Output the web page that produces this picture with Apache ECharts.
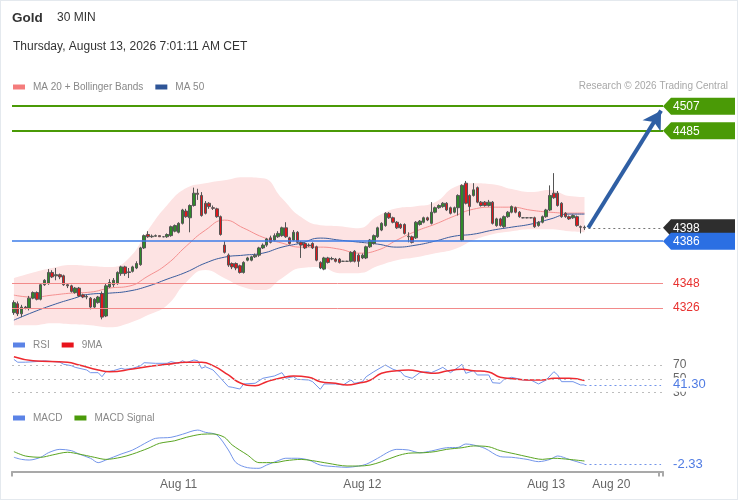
<!DOCTYPE html>
<html><head><meta charset="utf-8">
<script src="https://cdn.jsdelivr.net/npm/echarts@6/dist/echarts.min.js"></script>
<style>
html,body{margin:0;padding:0;background:#fff;}
#wrap{position:relative;width:738px;height:500px;}
#c{width:738px;height:500px;}
#frame{position:absolute;left:0;top:0;width:738px;height:500px;box-sizing:border-box;border:1px solid #e4e9ee;pointer-events:none;}
</style>
</head><body><div id="wrap"><div id="c"></div><div id="frame"></div></div>
<script>
// ---------- data ----------
const slotCount = 170;
const tickIndex = [43, 91, 139, 156];
const tickLabels = ['Aug 11', 'Aug 12', 'Aug 13', 'Aug 20'];

const opens  = [4322,4330,4321,4327,4326,4335,4340,4334,4347,4348,4358,4355,4356,4355,4347,4346,4340,4344,4338,4336,4335,4327,4331,4339,4319,4345,4347,4348,4357,4363,4358,4359,4362,4365,4380,4392,4390,4390.5,4391,4390,4390,4391,4395,4394,4402,4413,4407,4418,4429,4427,4420,4420,4416,4415,4408,4382.5,4373.5,4366,4366,4364,4358,4369,4369,4372,4373.5,4380,4382.5,4389,4387,4390,4391,4398,4389,4387,4394,4385,4384,4382.5,4384,4381,4367,4361,4371,4370,4370,4370,4368,4368,4368,4377,4373.5,4371,4371,4381,4384,4390,4396,4400,4411,4407,4403,4401,4401,4390,4390,4389,4401,4403,4407,4402,4412,4416,4417,4420,4416,4412,4416,4387,4438,4427,4427,4434,4421,4421,4418,4421,4400,4406,4399,4408,4412,4416,4412,4407,4407,4407,4407,4400,4403,4408,4414,4429,4429,4420,4411,4408,4407,4408,4399,4398.5];
const closes = [4331,4321,4327,4326,4335,4340,4334,4347,4351,4358,4354,4356,4354,4347,4346,4341,4344,4337,4336,4336.5,4327,4334,4336,4318,4346,4349,4351,4358,4363,4357,4358.5,4363,4366,4380,4391,4390,4390.5,4391,4390,4390,4392,4399,4400,4402,4414,4408,4418,4429,4428,4409,4411,4417,4415.5,4408,4392,4376,4364.6,4363,4362,4358,4367,4371,4372,4373.5,4380,4382.5,4388,4385,4391,4393,4398,4390,4384,4394,4385,4382.5,4380,4382,4380,4369,4362,4371,4367,4370.5,4368,4367,4368,4368,4376,4368,4368,4373.5,4381,4387,4391,4398,4402,4411,4407,4403,4398,4398,4393,4390.5,4385,4403,4404,4407,4405,4412,4416,4418,4420,4414,4411,4416,4427,4436,4420,4417,4432,4421,4418,4418,4421,4402,4406,4400,4408,4412,4417,4412,4408,4407,4407,4407,4399,4403,4408,4414,4427,4425,4418,4408,4408,4406,4409,4400,4398.5,4398];
const lows   = [4320,4319,4318,4325,4324,4334,4333,4333,4346,4347,4353,4351,4352,4346,4344,4340,4339,4336,4335,4334,4325,4326,4330,4316,4318,4344,4345,4347,4355,4355,4353,4358,4361,4364,4379,4389,4389,4390,4390,4389.5,4389,4390,4394,4393,4401,4407,4394,4417,4423,4408,4410,4415,4414,4407,4391,4375,4363,4361,4360,4357,4357,4368,4368,4371,4372,4379,4381,4384,4386,4389,4390,4389,4383,4386,4384,4371,4379,4381,4379,4368,4361,4360,4366,4369,4367,4366,4367.5,4367.5,4367,4367,4363,4370,4370,4380,4383,4389,4395,4399,4406,4402,4397,4397,4392,4385,4384,4388,4400,4402,4404,4401,4411,4415,4416,4413,4410,4411,4409,4386,4419,4409,4426,4420,4417,4417,4417,4401,4399,4399,4398,4407,4411,4411,4407,4406.5,4406.5,4406.5,4398,4399,4402,4407,4413,4424,4417,4407,4407,4405,4406,4399,4393,4396];
const highs  = [4333,4332,4329,4328,4337,4341,4341,4348,4352,4361,4360,4362,4357,4356,4348,4347,4345,4345,4339,4338,4336,4335,4337,4341,4348,4352,4353,4359,4364,4364,4362,4364,4368,4381,4392,4395,4392,4392,4391,4390.5,4393,4400,4401,4403,4415,4415,4419,4434,4433,4430,4422,4421,4418,4416,4409,4386,4375,4367,4367,4365,4368,4372,4373,4375,4381,4384,4389,4391,4393,4395,4399,4403,4390,4396,4395,4386,4385,4384,4385,4382,4368,4372,4372,4372,4371,4371,4368.5,4368.5,4377,4378,4375,4375,4382,4388,4392,4399,4403,4412,4412,4408,4404,4402,4402,4394,4391,4404,4405,4408,4408,4421,4417,4419,4421,4421,4417,4417,4428,4437,4440,4428,4438,4435,4422,4422,4423,4422,4407,4407,4409,4413,4418,4417,4413,4407.5,4407.5,4407.5,4408,4404,4409,4415,4436,4447,4431,4421,4412,4409,4410,4409,4400,4400];

const bandIdx = [0,5,10,15,20,25,30,35,40,45,50,55,60,65,70,75,80,85,90,95,100,105,110,115,120,125,130,135,140,145,149];
const bbUpper = [4353,4358,4362,4364.6,4363.7,4362.8,4370.8,4395.9,4418.3,4433.6,4438,4440.7,4443.4,4442.5,4424.6,4407.6,4400.4,4399.5,4397.7,4408.5,4415.6,4417.4,4421,4434.4,4438,4437.1,4432.7,4430,4431.8,4426.4,4425.5];
const bbLower = [4310.8,4310.8,4312.6,4311.7,4310.8,4309,4312.6,4319.8,4328.7,4349.3,4360.1,4352.9,4344.8,4342.2,4352.9,4361.9,4362.8,4357.4,4357.4,4363.7,4369,4371.7,4375.3,4378.9,4386.9,4392.3,4395,4396.8,4396.8,4395,4394.1];
const ma20    = [4337.7,4335.9,4337.7,4339.5,4340.4,4344,4345.7,4354.7,4365.5,4381.6,4395.9,4404.9,4397.7,4389.6,4384.3,4380.7,4380.7,4378.9,4375.3,4378,4387,4395,4401.3,4408.5,4414.7,4416.5,4416.5,4413.8,4412,4411.2,4411.2];
const ma50    = [4315.3,4322.4,4328.7,4334.1,4338.6,4339.5,4341.3,4345.7,4352,4358.3,4366.4,4371.7,4373.5,4375.3,4380.7,4384.3,4388.8,4387,4385.2,4383.4,4380.7,4382.5,4386.1,4390.5,4392.3,4395.9,4398.6,4401.3,4405.8,4410.3,4410.3];

const rsi = [[0,78],[1,74],[3,74],[6,75],[8,76],[10,75],[12,74],[13,71],[15,69],[16,66.6],[19,62.8],[20,58.9],[22,58.9],[23,53.1],[24,60.3],[26,61.8],[28,65.2],[29,63.8],[31,65.2],[33,68.6],[34,73.3],[37,72.4],[40,72.4],[41,74.8],[43,72.4],[44,76.2],[45,73.3],[47,77.2],[48,76.2],[49,65.2],[50,67.5],[52,62.8],[54,50.8],[56,38.7],[57,37.8],[59,35.3],[60,42.6],[63,43.6],[65,50.8],[68,54.1],[70,58.9],[71,50.8],[73,53.1],[74,49.3],[77,48.3],[78,45.9],[80,34.9],[81,42.6],[84,42.6],[86,41.1],[88,48.3],[89,43.6],[91,45.9],[92,53.1],[94,60.3],[97,70],[99,63.8],[101,60.3],[102,54.1],[104,50.8],[106,58.9],[108,60.3],[109,58.9],[111,63.8],[112,66.6],[114,58.9],[116,66.6],[117,71],[118,58],[120,61.8],[121,55.6],[124,55.6],[125,44.4],[127,43.6],[128,49.3],[130,52.2],[133,48.3],[135,48.3],[137,42.6],[139,48.3],[141,60.3],[142,55.6],[143,45.9],[146,45.9],[148,41.1],[149,41.3]];
const rsiMA = [[0,82],[5,76.2],[14,73.9],[17,70],[22,62.8],[25,60.3],[31,64.2],[36,68.6],[40,71],[45,73.9],[49,73.9],[52,69],[56,55.6],[59,44.4],[63,40.1],[66,45.9],[70,51.7],[73,54.1],[77,52.2],[80,45.9],[84,43.6],[87,41.1],[90,43.6],[93,48],[96,58],[100,61.8],[103,62.8],[107,59.4],[110,58],[113,61.3],[117,63.8],[120,61.8],[124,59.9],[127,52.2],[131,49.8],[134,48.3],[138,48.3],[141,50.8],[145,50.8],[149,47.4]];
const macd = [[0,1.8],[2,0.5],[4,0.1],[7,1.8],[9,4.6],[12,6.7],[15,5.9],[17,3.8],[20,1.2],[22,-1.5],[24,0.1],[28,3.8],[31,6.3],[35,11.4],[37,13.5],[41,14.1],[44,16],[48,18.6],[50,17.2],[53,15.6],[56,6.3],[58,-1.5],[61,-4.6],[64,-5],[66,-3],[69,-0.3],[71,1.2],[74,1.2],[77,0.1],[80,-3],[84,-4],[87,-4.4],[90,-3.6],[92,-2.5],[95,1.2],[98,5.3],[100,6.7],[103,6.3],[106,4.6],[109,5.7],[113,7.7],[116,7.9],[118,10],[120,9.4],[123,7.3],[127,2.2],[130,1.8],[134,0.5],[137,-0.9],[140,0.5],[142,2.6],[145,0.5],[147,-0.9],[149,-2.33]];
const macdSignal = [[0,5.3],[3,2.6],[7,1.8],[10,3.2],[14,4.9],[17,3.8],[21,1.8],[24,0.5],[28,1.8],[31,3.8],[35,7.3],[38,10.4],[42,12],[45,14.1],[49,16],[52,16.2],[55,14.1],[57,9.4],[61,3.2],[64,-1.5],[68,-1.5],[71,-0.3],[75,0.5],[78,-0.3],[82,-1.9],[87,-3.6],[90,-3.6],[93,-3],[96,-0.9],[100,2.6],[103,4.3],[107,4.6],[110,5.3],[113,6.7],[117,7.7],[120,8.8],[124,8.3],[127,5.9],[131,3.8],[134,2.2],[138,0.5],[141,1.2],[145,0.5],[149,-0.5]];

const targetLevels = [4507, 4485];
const pivotLevel = 4386;
const supportLevels = [4348, 4326];
const lastPrice = 4398;
const arrowTarget = 4503;
const rsiLevels = [70, 50, 30];
const macdTicks = [10, 0];
const lastRsi = 41.30;
const lastMacd = -2.33;
const lastCandle = 149;
const arrowStart = 150;
const endSlot = 169;

// ---------- helpers ----------
const FONT = 'Liberation Sans, Arial, sans-serif';
const cats = Array.from({length: slotCount}, (_, i) => String(i));
const pairs = (idx, vals) => idx.map((x, k) => [x, vals[k]]);
const candles = opens.map((o, i) => [o, closes[i], lows[i], highs[i]]);

const GREEN = '#4a9a06', BLUE = '#2b6fe3', DARK = '#2e2e2e';
const tagLevels = [[4507, GREEN], [4485, GREEN], [lastPrice, DARK], [pivotLevel, BLUE]];

const chart = echarts.init(document.getElementById('c'), null, {renderer: 'canvas'});

const xBase = (gi) => ({
  type: 'category', gridIndex: gi, data: cats, boundaryGap: true, show: gi === 2,
  axisLine: {show: gi === 2, onZero: false, lineStyle: {color: '#a9a9a9', width: 2}},
  axisTick: {show: gi === 2, interval: (i) => i === 0 || i === slotCount - 1, length: 5, lineStyle: {color: '#a9a9a9', width: 2}},
  axisLabel: {show: gi === 2, interval: (i) => tickIndex.includes(i),
    formatter: (v, i) => { const k = tickIndex.indexOf(i); return k >= 0 ? tickLabels[k] : ''; },
    color: '#666', fontSize: 12, fontFamily: FONT, margin: 7},
  splitLine: {show: false}
});

const legendBase = {icon: 'rect', itemWidth: 12, itemHeight: 5, itemGap: 12, left: 13, padding: 0,
  textStyle: {color: '#888', fontSize: 10, fontFamily: FONT, padding: [0, 0, 0, 3]}, selectedMode: false};

const option = {
  animation: false,
  backgroundColor: '#fff',
  textStyle: {fontFamily: FONT},
  grid: [
    {left: 12, right: 75, top: 95, height: 235.5},
    {left: 12, right: 75, top: 354.6, height: 45.0},
    {left: 12, right: 75, top: 424.56, height: 46.98}
  ],
  xAxis: [xBase(0), xBase(1), xBase(2)],
  yAxis: [
    {gridIndex: 0, min: 4306, max: 4517, show: false},
    {gridIndex: 1, min: 20, max: 85, show: false},
    {gridIndex: 2, min: -7, max: 22, show: false}
  ],
  legend: [
    Object.assign({}, legendBase, {top: 82, data: ['MA 20 + Bollinger Bands', 'MA 50']}),
    Object.assign({}, legendBase, {top: 340, data: ['RSI', '9MA']}),
    Object.assign({}, legendBase, {top: 413, data: ['MACD', 'MACD Signal']})
  ],
  graphic: [
    {type: 'text', left: 12, top: 11, style: {text: 'Gold', font: 'bold 13.5px ' + FONT, fill: '#333'}},
    {type: 'text', left: 57, top: 12, style: {text: '30 MIN', font: '12px ' + FONT, fill: '#333'}},
    {type: 'text', left: 13, top: 41, style: {text: 'Thursday, August 13, 2026 7:01:11 AM CET', font: '12px ' + FONT, fill: '#333'}},
    {type: 'text', right: 10, top: 81, style: {text: 'Research \u00A9 2026 Trading Central', font: '10px ' + FONT, fill: '#a8a8a8'}}
  ],
  series: [
    {name: 'bbLow', type: 'line', xAxisIndex: 0, yAxisIndex: 0, stack: 'bb', smooth: true, symbol: 'none', silent: true,
      lineStyle: {width: 0, opacity: 0}, data: pairs(bandIdx, bbLower), z: 1},
    {name: 'bbWidth', type: 'line', xAxisIndex: 0, yAxisIndex: 0, stack: 'bb', smooth: true, symbol: 'none', silent: true,
      lineStyle: {width: 0, opacity: 0}, areaStyle: {color: '#fde3e3', opacity: 1},
      data: bandIdx.map((x, k) => [x, bbUpper[k] - bbLower[k]]), z: 1},
    {name: 'MA 20 + Bollinger Bands', type: 'line', xAxisIndex: 0, yAxisIndex: 0, smooth: true, symbol: 'none',
      itemStyle: {color: '#f47c7c'}, lineStyle: {color: '#f59090', width: 1}, data: pairs(bandIdx, ma20), z: 2},
    {name: 'MA 50', type: 'line', xAxisIndex: 0, yAxisIndex: 0, smooth: true, symbol: 'none',
      itemStyle: {color: '#2f5597'}, lineStyle: {color: '#3a5d9e', width: 1}, data: pairs(bandIdx, ma50), z: 2},
    {name: 'levels', type: 'line', xAxisIndex: 0, yAxisIndex: 0, data: [], z: 3,
      markLine: {silent: true, symbol: 'none', animation: false,
        data: [
          ...targetLevels.map(v => ({yAxis: v, lineStyle: {color: GREEN, width: 2, type: 'solid'}, label: {show: false}})),
          {yAxis: pivotLevel, lineStyle: {color: '#3d7ce8', width: 1.5, type: 'solid'}, label: {show: false}},
          ...supportLevels.map(v => ({yAxis: v, lineStyle: {color: '#f28a8a', width: 1, type: 'solid'},
            label: {show: true, position: 'end', distance: 10, formatter: String(v), color: '#e8312f', fontSize: 12, fontFamily: FONT}})),
          [{coord: [String(arrowStart), lastPrice], lineStyle: {color: '#777', width: 1, type: [2, 3]}, label: {show: false}},
           {coord: [String(endSlot), lastPrice]}]
        ]}},
    {name: 'Gold', type: 'candlestick', xAxisIndex: 0, yAxisIndex: 0, barWidth: 3, z: 4,
      itemStyle: {color: '#2f8a2a', color0: '#e0161b', borderColor: '#555', borderColor0: '#555', borderWidth: 1},
      data: candles},
    {name: 'arrow', type: 'line', xAxisIndex: 0, yAxisIndex: 0, data: [], z: 5,
      markLine: {silent: true, symbol: ['none', 'arrow'], symbolSize: [16, 18], animation: false,
        lineStyle: {color: '#2f5fa4', width: 4, type: 'solid'}, label: {show: false},
        data: [[{coord: [String(arrowStart), lastPrice]}, {coord: [String(endSlot), arrowTarget]}]]}},
    {name: 'tags', type: 'custom', xAxisIndex: 0, yAxisIndex: 0, clip: false, silent: true, z: 6,
      data: tagLevels.map(t => [String(endSlot), t[0]]),
      renderItem: (params, api) => {
        const y = api.coord([api.value(0), api.value(1)])[1];
        const x0 = params.coordSys.x + params.coordSys.width;
        const col = tagLevels[params.dataIndex][1];
        return {type: 'group', children: [
          {type: 'polygon', shape: {points: [[x0, y], [x0 + 8, y - 8.5], [x0 + 72, y - 8.5], [x0 + 72, y + 8.5], [x0 + 8, y + 8.5]]}, style: {fill: col}},
          {type: 'text', x: x0 + 10, y: y + 0.5, style: {text: String(tagLevels[params.dataIndex][0]), fill: '#fff', font: '12px ' + FONT, verticalAlign: 'middle', align: 'left'}}
        ]};
      }},
    {name: 'RSI', type: 'line', xAxisIndex: 1, yAxisIndex: 1, symbol: 'none',
      itemStyle: {color: '#5b83e6'}, lineStyle: {color: '#7395ea', width: 1}, data: rsi, z: 3,
      markLine: {silent: true, symbol: 'none', animation: false,
        lineStyle: {type: [2, 4], color: '#bdbdbd', width: 1},
        label: {position: 'end', distance: 10, color: '#666', fontSize: 12, fontFamily: FONT, formatter: '{c}'},
        data: rsiLevels.map(v => ({yAxis: v}))}},
    {name: '9MA', type: 'line', xAxisIndex: 1, yAxisIndex: 1, symbol: 'none', smooth: true,
      itemStyle: {color: '#e8141c'}, lineStyle: {color: '#ee2a30', width: 1.5}, data: rsiMA, z: 4,
      markLine: {silent: true, symbol: 'none', animation: false,
        data: [[{coord: [String(lastCandle), lastRsi], lineStyle: {type: [2, 3], color: '#7395ea', width: 1},
                 label: {show: true, position: 'end', distance: 12, formatter: lastRsi.toFixed(2), color: '#4f7be3', fontSize: 13, fontFamily: FONT, backgroundColor: '#fff', padding: [1, 0, 0, 0]}},
                {coord: [String(endSlot), lastRsi]}]]}},
    {name: 'MACD', type: 'line', xAxisIndex: 2, yAxisIndex: 2, symbol: 'none', smooth: 0.3,
      itemStyle: {color: '#5b83e6'}, lineStyle: {color: '#7395ea', width: 1}, data: macd, z: 3,
      markLine: {silent: true, symbol: 'none', animation: false,
        lineStyle: {opacity: 0, width: 0},
        label: {position: 'end', distance: 10, color: '#666', fontSize: 12, fontFamily: FONT, formatter: '{c}'},
        data: macdTicks.map(v => ({yAxis: v}))}},
    {name: 'MACD Signal', type: 'line', xAxisIndex: 2, yAxisIndex: 2, symbol: 'none', smooth: 0.3,
      itemStyle: {color: '#4a9a0a'}, lineStyle: {color: '#5aa522', width: 1}, data: macdSignal, z: 4,
      markLine: {silent: true, symbol: 'none', animation: false,
        data: [[{coord: [String(lastCandle), lastMacd], lineStyle: {type: [2, 3], color: '#7395ea', width: 1},
                 label: {show: true, position: 'end', distance: 12, formatter: lastMacd.toFixed(2), color: '#4f7be3', fontSize: 13, fontFamily: FONT, backgroundColor: '#fff', padding: [1, 0, 0, 0]}},
                {coord: [String(endSlot), lastMacd]}]]}}
  ]
};
chart.setOption(option);
</script></body></html>
